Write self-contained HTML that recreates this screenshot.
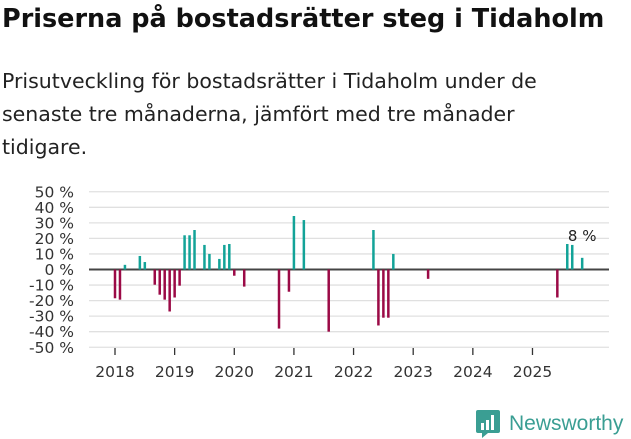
<!DOCTYPE html>
<html><head><meta charset="utf-8"><style>
body{margin:0;width:631px;height:439px;background:#fff;font-family:"DejaVu Sans","Liberation Sans",sans-serif;color:#222;overflow:hidden;position:relative}
h1{position:absolute;left:2px;top:4px;margin:0;font-size:25.5px;font-weight:bold;color:#111;white-space:nowrap}
.sub{position:absolute;left:2px;top:65px;margin:0;font-size:20.5px;line-height:33px;color:#222;white-space:nowrap}
</style></head><body>
<h1>Priserna på bostadsrätter steg i Tidaholm</h1>
<p class="sub">Prisutveckling för bostadsrätter i Tidaholm under de<br>senaste tre månaderna, jämfört med tre månader<br>tidigare.</p>
<svg id="chart" width="631" height="439" style="position:absolute;left:0;top:0"></svg>
<div style="position:absolute;left:476px;top:409px;display:flex;align-items:center">
<svg width="24" height="30" viewBox="0 0 24 30"><path d="M2 1h20a2 2 0 0 1 2 2v19a2 2 0 0 1-2 2H12l-6 5v-5H2a2 2 0 0 1-2-2V3a2 2 0 0 1 2-2z" fill="#3a9e93"/><rect x="5" y="14" width="3" height="7" fill="#fff"/><rect x="10" y="11" width="3" height="10" fill="#fff"/><rect x="15" y="6" width="3" height="15" fill="#fff"/></svg>
<span style="font-family:'Liberation Sans',sans-serif;font-size:21px;color:#3a9e93;margin-left:9px">Newsworthy</span></div>
<script>
const months=[0,1,2,5,6,8,9,10,11,12,13,14,15,16,18,19,21,22,23,24,26,33,35,36,38,43,52,53,54,55,56,63,89,91,92,94];
const values=[-18.5,-19.4,3,8.7,4.8,-9.8,-16.2,-19.4,-27,-18,-10.4,22,22,25.4,15.8,10,6.8,15.8,16.4,-4,-11,-38,-14.3,34.4,31.8,-40,25.4,-36,-31,-31,10,-6,-18,16.4,15.8,7.5];
const yTicks=[50,40,30,20,10,0,-10,-20,-30,-40,-50];
const years=["2018","2019","2020","2021","2022","2023","2024","2025"];
const NS="http://www.w3.org/2000/svg",svg=document.getElementById('chart');
const y=v=>269.5-v*1.555, x=m=>115+m*4.97;
function mk(t,a){const e=document.createElementNS(NS,t);for(const k in a)e.setAttribute(k,a[k]);svg.appendChild(e);return e;}
yTicks.forEach(v=>{
 const g=mk('line',{x1:89,x2:609,y1:y(v),y2:y(v),stroke:v===0?'#444':'#e0e0e0','stroke-width':v===0?2:1.3});
 
 
 const t=mk('text',{x:74,y:y(v)+5.5,'text-anchor':'end','font-size':15.5,fill:'#333'});
 t.textContent=v+' %';
 
 
});
years.forEach((yr,i)=>{
 const xx=x(i*12);
 const l=mk('line',{x1:xx,x2:xx,y1:348,y2:355,stroke:'#333','stroke-width':1.3});
 
 
 const t=mk('text',{x:xx,y:377,'text-anchor':'middle','font-size':15.5,fill:'#333'});
 t.textContent=yr;
 
 
});
months.forEach((m,i)=>{
 const v=values[i];
 const r=mk('rect',{x:x(m)-1.25,width:2.5,y:v>0?y(v):y(0),height:Math.abs(y(v)-y(0)),fill:v>0?'#13a398':'#9b0a46'});
 
 
});
const li=values.length-1;
const lab=mk('text',{x:x(months[li]),y:y(values[li])-17,'text-anchor':'middle','font-size':15,fill:'#222'});
lab.textContent=Math.round(values[li])+' %';


</script>
</body></html>
